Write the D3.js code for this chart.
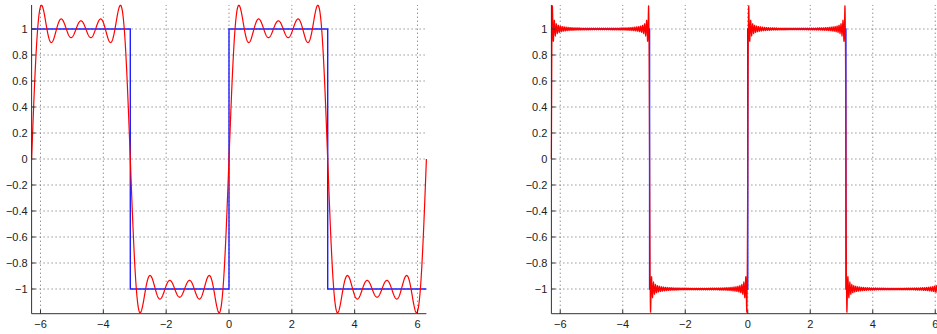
<!DOCTYPE html>
<html>
<head>
<meta charset="utf-8">
<script src="https://cdn.jsdelivr.net/npm/d3@7"></script>
<style>
  body { margin: 0; background: #fff; }
  text { font-family: "Liberation Sans", Arial, sans-serif; font-size: 11px; fill: #222; }
</style>
</head>
<body>
<script>
// Chart data: square wave breakpoints, Fourier terms, ticks
const PI = Math.PI;
const squareX = [-2 * PI, -PI, -PI, 0, 0, PI, PI, 2 * PI];
const squareY = [1, 1, -1, -1, 1, 1, -1, -1];
const harmonicsLeft = [1, 3, 5, 7, 9];   // 5 odd harmonics on the left
const termsRight = 50;                   // 50 odd harmonics on the right
const xTicks = [-6, -4, -2, 0, 2, 4, 6];
const yTicks = [-1, -0.8, -0.6, -0.4, -0.2, 0, 0.2, 0.4, 0.6, 0.8, 1];
const yLimits = [-1.19, 1.185];

width = 937;
height = 334;

svg = d3.select("body").append("svg")
    .attr("width", width)
    .attr("height", height);

// Partial Fourier sum of the square wave for a given list of harmonics
function partialSum(harmonics, n) {
    const pts = [];
    for (let i = 0; i <= n; i++) {
        const x = -2 * PI + 4 * PI * i / n;
        let s = 0;
        harmonics.forEach(k => { s += Math.sin(k * x) / k; });
        pts.push([x, 4 / PI * s]);
    }
    return pts;
}

const harmonicsRight = d3.range(termsRight).map(i => 2 * i + 1);

const panels = [
    { x0: 31.6, x1: 426.4, harmonics: harmonicsLeft, samples: 1500 },
    { x0: 551.4, x1: 944.1, harmonics: harmonicsRight, samples: 5000 }
];

// y scale shared by both panels (1 -> 29px, -1 -> 289px)
y = d3.scaleLinear().domain([-1, 1]).range([289, 29]);
const yTop = y(yLimits[1]), yBot = y(yLimits[0]);

panels.forEach(p => {
    const x = d3.scaleLinear().domain([-2 * PI, 2 * PI]).range([p.x0, p.x1]);
    const g = svg.append("g");

    // dotted grid
    g.selectAll("line.gx").data(xTicks).enter().append("line")
        .attr("x1", d => x(d)).attr("x2", d => x(d))
        .attr("y1", yBot).attr("y2", yTop)
        .attr("stroke", "#666").attr("stroke-width", 1)
        .attr("stroke-dasharray", "1,3");
    g.selectAll("line.gy").data(yTicks).enter().append("line")
        .attr("x1", p.x0).attr("x2", p.x1)
        .attr("y1", d => y(d)).attr("y2", d => y(d))
        .attr("stroke", "#666").attr("stroke-width", 1)
        .attr("stroke-dasharray", "1,3");

    // square wave (blue) and partial sum (red)
    const line = d3.line().x(d => x(d[0])).y(d => y(d[1]));
    g.append("path")
        .datum(squareX.map((v, i) => [v, squareY[i]]))
        .attr("d", line)
        .attr("fill", "none").attr("stroke", "#2020ff").attr("stroke-width", 1.4);
    g.append("path")
        .datum(partialSum(p.harmonics, p.samples))
        .attr("d", line)
        .attr("fill", "none").attr("stroke", "#ff0000").attr("stroke-width", 1.2);

    // axes lines (MATLAB style, box off, inward ticks)
    g.append("line").attr("x1", p.x0).attr("x2", p.x0).attr("y1", yTop).attr("y2", yBot)
        .attr("stroke", "#333");
    g.append("line").attr("x1", p.x0).attr("x2", p.x1).attr("y1", yBot).attr("y2", yBot)
        .attr("stroke", "#333");
    g.selectAll("line.tx").data(xTicks).enter().append("line")
        .attr("x1", d => x(d)).attr("x2", d => x(d))
        .attr("y1", yBot).attr("y2", yBot - 4).attr("stroke", "#333");
    g.selectAll("line.ty").data(yTicks).enter().append("line")
        .attr("x1", p.x0).attr("x2", p.x0 + 4)
        .attr("y1", d => y(d)).attr("y2", d => y(d)).attr("stroke", "#333");

    // tick labels
    const fmt = v => (v < 0 ? "\u2212" : "") + String(Math.abs(Math.round(v * 10) / 10));
    g.selectAll("text.lx").data(xTicks).enter().append("text")
        .attr("x", d => x(d)).attr("y", yBot + 14)
        .attr("text-anchor", "middle").text(fmt);
    g.selectAll("text.ly").data(yTicks).enter().append("text")
        .attr("x", p.x0 - 4).attr("y", d => y(d)).attr("dy", "0.35em")
        .attr("text-anchor", "end").text(fmt);
});
</script>
</body>
</html>
